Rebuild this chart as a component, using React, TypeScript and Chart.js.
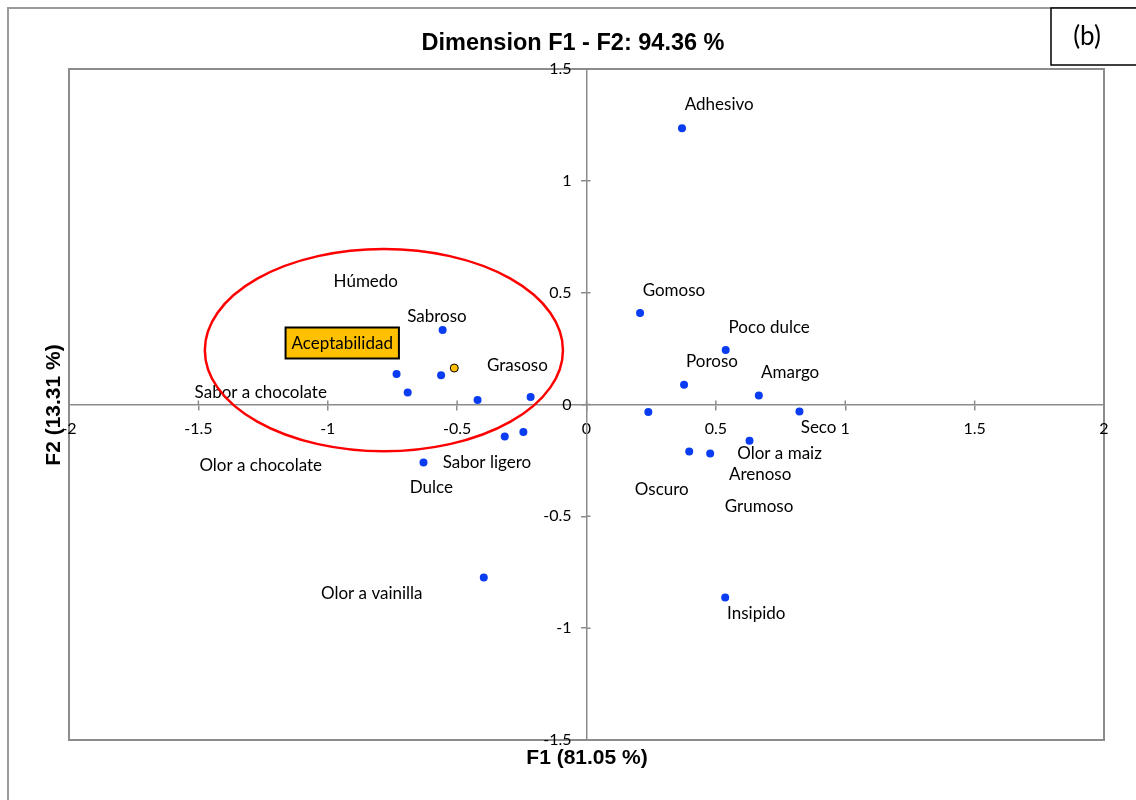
import React, { useEffect, useRef } from 'react';
import { Chart, registerables } from 'chart.js';

Chart.register(...registerables);

// Active attributes (F1, F2 coordinates) and where their text labels sit
const attributeNames = [
  'Adhesivo', 'Gomoso', 'Poco dulce', 'Poroso', 'Amargo', 'Oscuro', 'Seco', 'Olor a maiz',
  'Arenoso', 'Grumoso', 'Insipido', 'Sabroso', 'Húmedo', 'Grasoso', 'Sabor a chocolate',
  '', '', 'Sabor ligero', 'Olor a chocolate', 'Dulce', 'Olor a vainilla',
];
const f1Values = [
  0.369, 0.207, 0.538, 0.377, 0.666, 0.239, 0.823, 0.630,
  0.478, 0.397, 0.536, -0.556, -0.734, -0.216, -0.691,
  -0.562, -0.421, -0.244, -0.316, -0.630, -0.397,
];
const f2Values = [
  1.235, 0.409, 0.244, 0.088, 0.040, -0.034, -0.031, -0.162,
  -0.219, -0.210, -0.863, 0.333, 0.136, 0.033, 0.054,
  0.131, 0.020, -0.123, -0.143, -0.259, -0.774,
];
const labelF1 = [
  0.513, 0.338, 0.706, 0.485, 0.787, 0.291, 0.897, 0.746,
  0.671, 0.667, 0.656, -0.578, -0.853, -0.267, -1.259,
  0, 0, -0.385, -1.259, -0.600, -0.830,
];
const labelF2 = [
  1.342, 0.509, 0.344, 0.192, 0.143, -0.378, -0.103, -0.217,
  -0.314, -0.458, -0.934, 0.392, 0.548, 0.173, 0.052,
  0, 0, -0.260, -0.274, -0.372, -0.845,
];

// Supplementary variable
const suppNames = ['Aceptabilidad'];
const suppF1 = [-0.511];
const suppF2 = [0.163];
const suppLabelF1 = [-0.944];
const suppLabelF2 = [0.275];

// Axis ticks
const xTicks = [-2, -1.5, -1, -0.5, 0, 0.5, 1, 1.5, 2];
const yTicks = [-1.5, -1, -0.5, 0, 0.5, 1, 1.5];
const xTickLabels = ['-2', '-1.5', '-1', '-0.5', '0', '0.5', '1', '1.5', '2'];
const yTickLabels = ['-1.5', '-1', '-0.5', '0', '0.5', '1', '1.5'];

// Highlight ellipse (center F1, F2 and radii in axis units)
const ellipseCenter = [-0.783, 0.243];
const ellipseRadii = [0.692, 0.452];

const titleText = 'Dimension F1 - F2: 94.36 %';
const xTitle = 'F1 (81.05 %)';
const yTitle = 'F2 (13.31 %)';
const panelTag = '(b)';

const TICK_FONT = '16px Lato, "Open Sans", sans-serif';
const LABEL_FONT = '17px Lato, "Open Sans", sans-serif';
const AXIS_GRAY = '#8c8c8c';

const overlayPlugin = {
  id: 'overlay',
  beforeDraw(chart: any) {
    const ctx = chart.ctx;
    const a = chart.chartArea;
    ctx.save();
    ctx.fillStyle = '#ffffff';
    ctx.fillRect(0, 0, chart.width, chart.height);
    // outer frame
    ctx.strokeStyle = '#9a9a9a';
    ctx.lineWidth = 2;
    ctx.beginPath();
    ctx.moveTo(8, chart.height);
    ctx.lineTo(8, 8);
    ctx.lineTo(chart.width, 8);
    ctx.stroke();
    // plot area border
    ctx.strokeStyle = AXIS_GRAY;
    ctx.lineWidth = 2;
    ctx.strokeRect(a.left, a.top, a.right - a.left, a.bottom - a.top);
    ctx.restore();
  },
  afterDatasetsDraw(chart: any) {
    const ctx = chart.ctx;
    const xs = chart.scales.x;
    const ys = chart.scales.y;
    ctx.save();
    // crossing tick halves
    const y0 = ys.getPixelForValue(0);
    const x0 = xs.getPixelForValue(0);
    ctx.strokeStyle = AXIS_GRAY;
    ctx.lineWidth = 1.5;
    ctx.beginPath();
    xTicks.forEach((v) => {
      const px = xs.getPixelForValue(v);
      ctx.moveTo(px, y0);
      ctx.lineTo(px, y0 - 4);
    });
    yTicks.forEach((v) => {
      const py = ys.getPixelForValue(v);
      ctx.moveTo(x0, py);
      ctx.lineTo(x0 + 4, py);
    });
    ctx.stroke();

    // y tick labels, placed off the vertical axis line
    ctx.font = TICK_FONT;
    ctx.fillStyle = '#000000';
    ctx.textAlign = 'right';
    ctx.textBaseline = 'middle';
    ys.ticks.forEach((t: any) => {
      const idx = yTicks.indexOf(t.value);
      const txt = idx >= 0 ? yTickLabels[idx] : String(t.value);
      ctx.fillText(txt, x0 - 15, ys.getPixelForValue(t.value));
    });

    // point labels
    ctx.font = LABEL_FONT;
    ctx.textAlign = 'center';
    attributeNames.forEach((n, i) => {
      if (!n) return;
      ctx.fillText(n, xs.getPixelForValue(labelF1[i]), ys.getPixelForValue(labelF2[i]));
    });

    // ellipse
    const cx = xs.getPixelForValue(ellipseCenter[0]);
    const cy = ys.getPixelForValue(ellipseCenter[1]);
    const rx = Math.abs(xs.getPixelForValue(ellipseCenter[0] + ellipseRadii[0]) - cx);
    const ry = Math.abs(ys.getPixelForValue(ellipseCenter[1] + ellipseRadii[1]) - cy);
    ctx.strokeStyle = '#ff0000';
    ctx.lineWidth = 2.5;
    ctx.beginPath();
    ctx.ellipse(cx, cy, rx, ry, 0, 0, Math.PI * 2);
    ctx.stroke();

    // supplementary label box
    suppNames.forEach((n, i) => {
      const lx = xs.getPixelForValue(suppLabelF1[i]);
      const ly = ys.getPixelForValue(suppLabelF2[i]);
      const w = ctx.measureText(n).width + 12;
      const h = 31;
      ctx.fillStyle = '#ffc000';
      ctx.fillRect(lx - w / 2, ly - h / 2, w, h);
      ctx.strokeStyle = '#000000';
      ctx.lineWidth = 2;
      ctx.strokeRect(lx - w / 2, ly - h / 2, w, h);
      ctx.fillStyle = '#000000';
      ctx.fillText(n, lx, ly + 1);
    });
    ctx.restore();
  },
  afterDraw(chart: any) {
    const ctx = chart.ctx;
    ctx.save();
    ctx.fillStyle = '#000000';
    ctx.textAlign = 'center';
    ctx.textBaseline = 'middle';
    ctx.font = 'bold 23.5px "Liberation Sans", Arial, sans-serif';
    ctx.fillText(titleText, 573, 44);
    ctx.font = 'bold 21px "Liberation Sans", Arial, sans-serif';
    ctx.fillText(xTitle, 587, 758);
    ctx.save();
    ctx.translate(54, 405);
    ctx.rotate(-Math.PI / 2);
    ctx.fillText(yTitle, 0, 0);
    ctx.restore();
    // panel tag box
    ctx.fillStyle = '#ffffff';
    ctx.fillRect(1051, 8, 100, 57);
    ctx.strokeStyle = '#000000';
    ctx.lineWidth = 1.5;
    ctx.strokeRect(1051, 8, 100, 57);
    ctx.fillStyle = '#000000';
    ctx.font = '26px Lato, "Open Sans", sans-serif';
    ctx.fillText(panelTag, 1087, 37);
    ctx.restore();
  },
};

export default function App() {
  const ref = useRef<HTMLCanvasElement | null>(null);
  useEffect(() => {
    if (!ref.current) return;
    const chart = new Chart(ref.current, {
      type: 'scatter',
      data: {
        datasets: [
          {
            label: 'Atributos',
            data: f1Values.map((x, i) => ({ x, y: f2Values[i] })),
            backgroundColor: '#0a3cf2',
            borderWidth: 0,
            pointRadius: 4,
            pointHoverRadius: 4,
          },
          {
            label: 'Suplementaria',
            data: suppF1.map((x, i) => ({ x, y: suppF2[i] })),
            backgroundColor: '#ffc000',
            borderColor: '#000000',
            borderWidth: 1,
            pointRadius: 4,
            pointHoverRadius: 4,
          },
        ],
      },
      options: {
        animation: false,
        responsive: false,
        devicePixelRatio: 1,
        layout: { padding: { left: 69, top: 69, right: 32, bottom: 60 } },
        plugins: {
          legend: { display: false },
          title: { display: false },
          tooltip: { enabled: false },
        },
        scales: {
          x: {
            type: 'linear',
            position: { y: 0 } as any,
            min: -2,
            max: 2,
            afterBuildTicks: (s: any) => {
              s.ticks = xTicks.map((v) => ({ value: v }));
            },
            ticks: {
              autoSkip: false,
              maxRotation: 0,
              padding: 10,
              color: '#000000',
              font: { family: 'Lato, "Open Sans", sans-serif', size: 16 },
              callback: (v: any) => xTickLabels[xTicks.indexOf(Number(v))] ?? String(v),
            },
            grid: { drawOnChartArea: false, drawTicks: true, tickLength: 5, color: AXIS_GRAY, lineWidth: 1.5 },
            border: { display: true, color: AXIS_GRAY, width: 1.5 },
          },
          y: {
            type: 'linear',
            position: { x: 0 } as any,
            min: -1.5,
            max: 1.5,
            afterBuildTicks: (s: any) => {
              s.ticks = yTicks.map((v) => ({ value: v }));
            },
            ticks: {
              display: false,
              autoSkip: false,
            },
            grid: { drawOnChartArea: false, drawTicks: true, tickLength: 5, color: AXIS_GRAY, lineWidth: 1.5 },
            border: { display: true, color: AXIS_GRAY, width: 1.5 },
          },
        },
      },
      plugins: [overlayPlugin],
    });
    return () => chart.destroy();
  }, []);
  return (
    <div style={{ position: 'absolute', left: 0, top: 0, width: 1136, height: 800 }}>
      <canvas ref={ref} width={1136} height={800} style={{ display: 'block' }} />
    </div>
  );
}
